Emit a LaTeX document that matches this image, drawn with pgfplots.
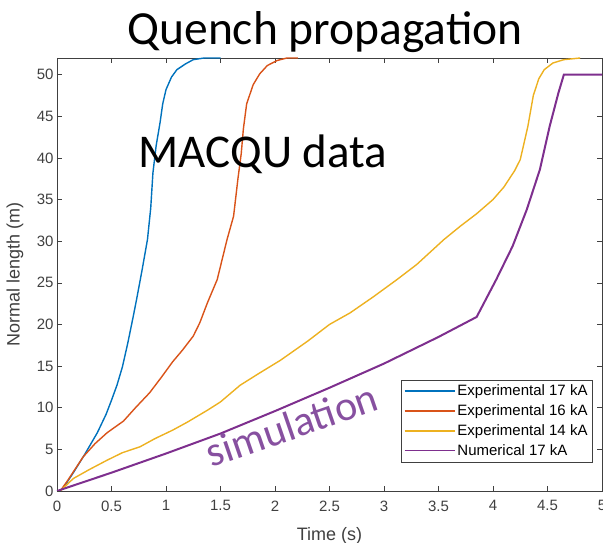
\documentclass[border=0pt]{standalone}
\usepackage{pgfplots}
\pgfplotsset{compat=1.18}
\usepackage{fontspec}
\setmainfont{Liberation Sans}
\newfontfamily\calibri{Carlito}
\definecolor{mblue}{rgb}{0,0.447,0.741}
\definecolor{morange}{rgb}{0.85,0.325,0.098}
\definecolor{myellow}{rgb}{0.929,0.694,0.125}
\definecolor{mpurple}{rgb}{0.494,0.184,0.556}
\definecolor{simpurple}{RGB}{135,80,160}
\definecolor{axgray}{gray}{0.25}
\begin{document}
\begin{tikzpicture}
\useasboundingbox (0,0) rectangle (603pt,543pt);
\begin{axis}[
  at={(57pt,52pt)}, anchor=south west,
  scale only axis, width=545pt, height=433pt,
  xmin=0, xmax=5, ymin=0, ymax=52,
  xtick={0,0.5,...,5}, ytick={0,5,...,50},
  tick align=inside, major tick length=5pt,
  axis line style={axgray, line width=0.6pt},
  every tick/.style={axgray, line width=0.6pt},
  ticklabel style={font=\fontsize{15}{18}\selectfont, text=axgray},
  xticklabel style={yshift=-6pt},
  /pgf/number format/assume math mode=true,
  xlabel={Time (s)}, ylabel={Normal length (m)},
  every axis x label/.style={at={(axis description cs:0.5,0)}, yshift=-45pt, anchor=center,
    font=\fontsize{18}{21}\selectfont, text=axgray},
  every axis y label/.style={at={(axis description cs:0,0.5)}, xshift=-42pt, rotate=90, anchor=center,
    font=\fontsize{18}{21}\selectfont, text=axgray},
  legend style={at={(0.983,0.067)}, anchor=south east, font=\fontsize{15}{17}\selectfont,
    draw=axgray, row sep=3.5pt, inner sep=3pt},
  legend cell align=left,
  legend image code/.code={\draw[#1] (0pt,0pt) -- (50pt,0pt);},
]
\addplot[color=mblue, line width=1.4pt, legend image post style={line width=1.6pt, mblue}] coordinates {
(0.03,0) (0.08,0.8) (0.15,2.2) (0.25,4.3) (0.37,7.0) (0.45,9.2) (0.5,10.9)
(0.55,12.7) (0.6,14.9) (0.65,17.8) (0.7,21) (0.73,23) (0.78,26.5) (0.83,30.2)
(0.86,34) (0.88,38.2) (0.91,41.5) (0.945,44.2) (0.97,46.5) (1.0,48.2)
(1.05,49.7) (1.1,50.6) (1.18,51.3) (1.25,51.8) (1.35,52.0) (1.5,52.0)};
\addlegendentry{Experimental 17 kA}
\addplot[color=morange, line width=1.4pt, legend image post style={line width=1.6pt, morange}] coordinates {
(0.03,0) (0.1,1.3) (0.24,4.1) (0.35,5.7) (0.46,7.0) (0.61,8.4) (0.72,10)
(0.85,11.8) (0.96,13.7) (1.06,15.5) (1.15,16.9) (1.25,18.6) (1.31,20.2)
(1.38,22.6) (1.47,25.4) (1.53,28.6) (1.56,30.2) (1.62,33) (1.66,37.5)
(1.69,40.5) (1.71,43.5) (1.74,46.5) (1.80,48.8) (1.86,50.1) (1.93,51.1)
(2.02,51.7) (2.11,52) (2.21,52)};
\addlegendentry{Experimental 16 kA}
\addplot[color=myellow, line width=1.4pt, legend image post style={line width=1.6pt, myellow}] coordinates {
(0.03,0) (0.15,1.5) (0.3,2.6) (0.46,3.7) (0.6,4.6) (0.76,5.3) (0.9,6.3)
(1.06,7.3) (1.2,8.3) (1.38,9.7) (1.5,10.7) (1.68,12.7) (1.85,14.1) (2.05,15.7)
(2.3,18.0) (2.5,20.0) (2.69,21.4) (2.9,23.3) (3.12,25.4) (3.3,27.2) (3.45,29.0)
(3.55,30.2) (3.7,31.8) (3.85,33.3) (4.0,35) (4.1,36.5) (4.2,38.5) (4.25,39.8)
(4.28,41.5) (4.32,43.8) (4.37,47.5) (4.42,49.5) (4.47,50.6) (4.55,51.4)
(4.65,51.8) (4.8,52)};
\addlegendentry{Experimental 14 kA}
\addplot[color=mpurple, line width=2pt, legend image post style={line width=1.6pt, mpurple}] coordinates {
(0,0) (0.5,2.2) (1.0,4.5) (1.5,6.9) (2.0,9.6) (2.5,12.4) (3.0,15.3)
(3.5,18.5) (3.85,20.9) (4.03,25.4) (4.18,29.4) (4.31,33.8) (4.43,38.6)
(4.52,43.8) (4.60,47.8) (4.65,50.0) (5.0,50.0)};
\addlegendentry{Numerical 17 kA}
\node[font=\calibri\fontsize{47}{53}\selectfont, anchor=base] at (axis cs:1.89,38.8) {MACQU data};
\node[font=\calibri\fontsize{42}{48}\selectfont, text=simpurple, rotate=19, anchor=base west, inner sep=0pt] at (axis cs:1.42,2.8) {simulation};
\end{axis}
\node[font=\calibri\fontsize{47.5}{53}\selectfont, anchor=base] at (325pt,498pt) {Quench propagation};
\end{tikzpicture}
\end{document}
